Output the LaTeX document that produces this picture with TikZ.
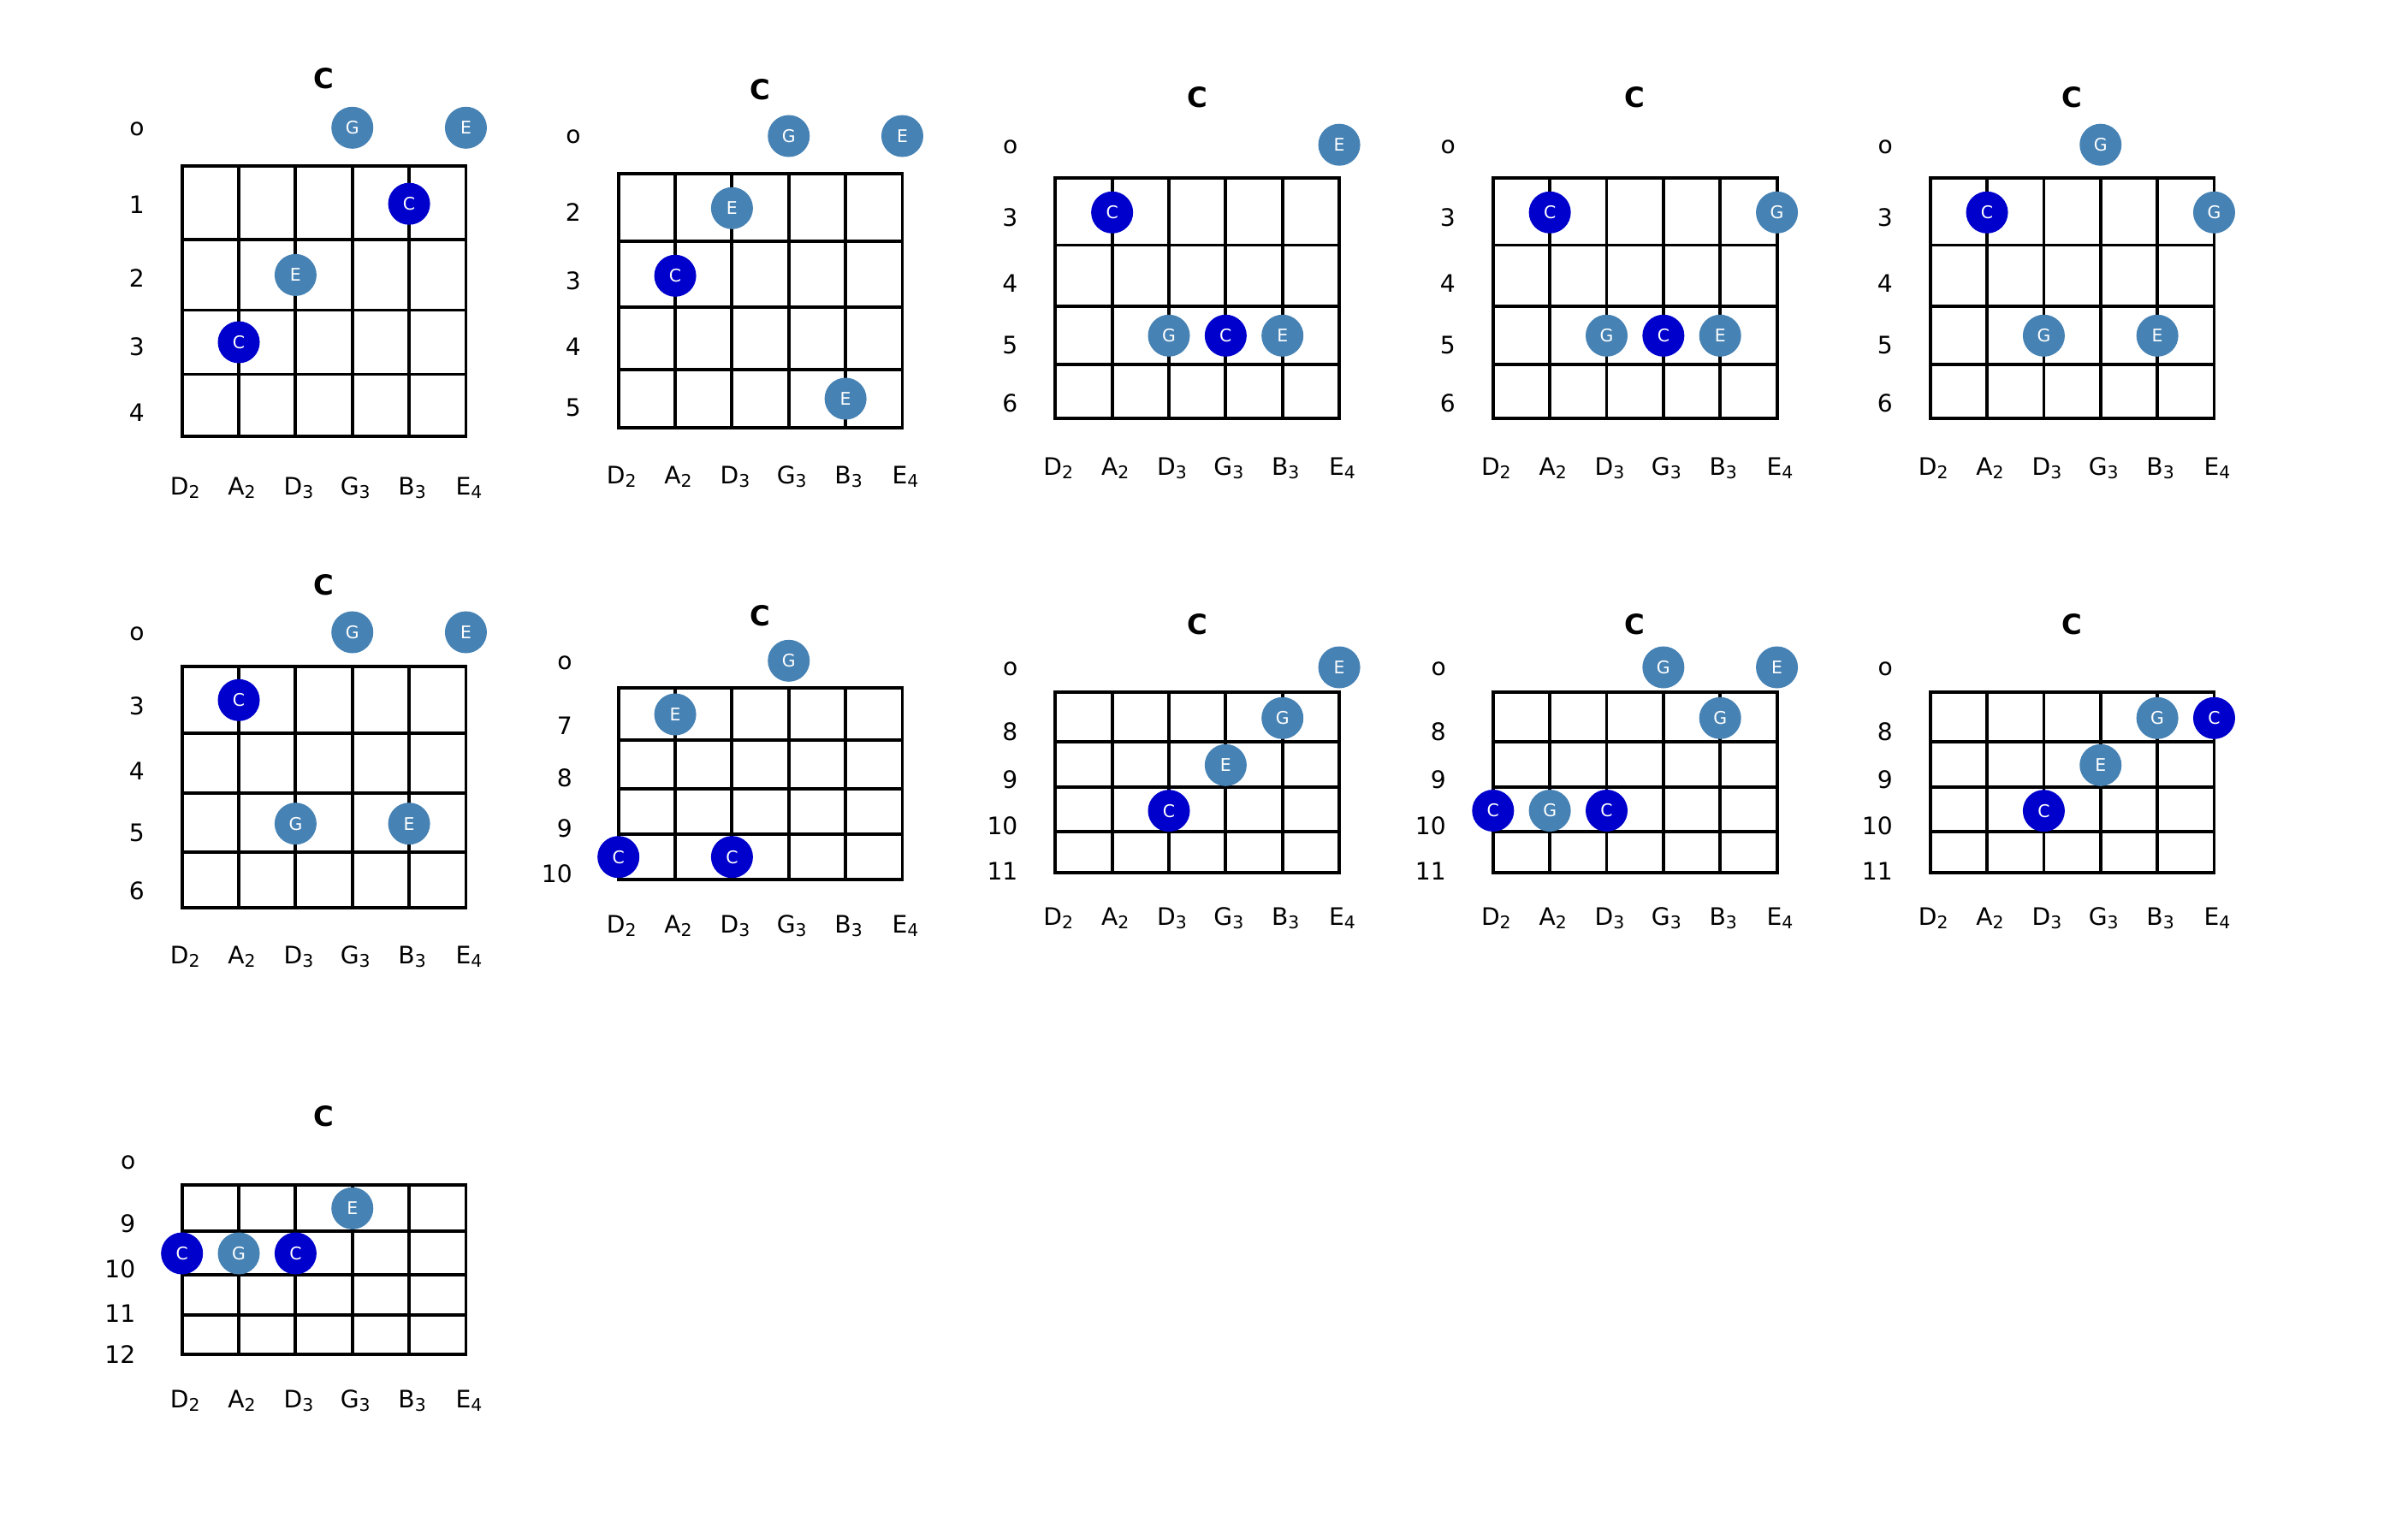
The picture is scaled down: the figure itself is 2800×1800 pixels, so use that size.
\documentclass[tikz,border=0pt]{standalone}
\usepackage{fontspec}
\setmainfont{DejaVu Sans}
\definecolor{rootblue}{HTML}{0000CD}
\definecolor{toneblue}{HTML}{4682B4}
\tikzset{
  fret/.style={draw=black,line width=1.1pt,line cap=rect},
  fretlab/.style={font=\fontsize{8}{9}\selectfont,anchor=east,inner sep=0pt},
  strlab/.style={font=\fontsize{8}{9}\selectfont,inner sep=0pt,xshift=0.035cm},
  chordname/.style={font=\fontsize{9.2}{10}\selectfont\bfseries,inner sep=0pt},
  dot/.style={circle,inner sep=0pt,minimum size=4.9mm,text=white,
              font=\fontsize{5.8}{6}\selectfont},
  root/.style={dot,fill=rootblue},
  tone/.style={dot,fill=toneblue}
}
\def\sgap{66.35}
\newcommand{\sub}[1]{\raisebox{-0.15em}{\fontsize{5.8}{6}\selectfont#1}}
% #1 left x, #2 top, #3 bottom, #4 inner fret lines
\newcommand{\fretboard}[4]{%
  \foreach \s in {0,...,5}
    \draw[fret] ({#1+\s*\sgap},#2) -- ({#1+\s*\sgap},#3);
  \foreach \fy in {#2,#4,#3}
    \draw[fret] (#1,\fy) -- ({#1+5*\sgap},\fy);
}
% #1 name, #2 left x, #3 y of string names, #4 y of chord name
\newcommand{\chordframe}[4]{%
  \node[chordname] (#1-t) at ({#2+2.5*\sgap},#4) {C};
  \foreach \n/\o [count=\s from 0] in {D/2,A/2,D/3,G/3,B/3,E/4}
    \node[strlab] (#1-s\s) at ({#2+\s*\sgap},#3) {\n\sub{\o}};
}
% #1 name, #2 right x, #3 list label/y
\newcommand{\fretnums}[3]{%
  \foreach \t/\y [count=\k] in {#3}
    \node[fretlab] (#1-f\k) at (#2,\y) {\t};
}
% #1 name, #2 left x, #3 style, #4 list string/y/note
\newcommand{\notes}[4]{%
  \foreach \s/\y/\n [count=\k] in {#4}
    \node[#3] (#1-#3\k) at ({#2+\s*\sgap},\y) {\n};
}
\begin{document}
\begin{tikzpicture}[x=0.01cm,y=-0.01cm]
  \useasboundingbox (0,0) rectangle (2800,1800);
  % row 1
  \fretboard{212.7}{193.9}{510}{280.4,362.5,437.5}
  \chordframe{a}{212.7}{570}{92}
  \fretnums{a}{169.4}{o/151,1/239.3,2/325,3/405.4,4/482.1}
  \notes{a}{212.7}{tone}{3/149.3/G,5/149.3/E,2/321.4/E}
  \notes{a}{212.7}{root}{4/238.2/C,1/400/C}

  \fretboard{722.7}{202.7}{500}{281.7,359,431.7}
  \chordframe{b}{722.7}{557}{105}
  \fretnums{b}{679.4}{o/160,2/247.7,3/328.3,4/405,5/476.7}
  \notes{b}{722.7}{tone}{3/159/G,5/159/E,2/243.3/E,4/466/E}
  \notes{b}{722.7}{root}{1/322.3/C}

  \fretboard{1233.3}{208.3}{489.3}{286.5,357.6,426.2}
  \chordframe{c}{1233.3}{547}{113.3}
  \fretnums{c}{1190}{o/171.7,3/254,4/331.7,5/403,6/471.7}
  \notes{c}{1233.3}{tone}{5/169.2/E,2/392.3/G,4/392.3/E}
  \notes{c}{1233.3}{root}{1/248.3/C,3/392.3/C}

  \fretboard{1744.8}{208.3}{489.3}{286.5,357.6,426.2}
  \chordframe{d}{1744.8}{547}{113.3}
  \fretnums{d}{1701.5}{o/171.7,3/254,4/331.7,5/403,6/471.7}
  \notes{d}{1744.8}{tone}{5/248.3/G,2/392.3/G,4/392.3/E}
  \notes{d}{1744.8}{root}{1/248.3/C,3/392.3/C}

  \fretboard{2255.7}{208.3}{489.3}{286.5,357.6,426.2}
  \chordframe{e}{2255.7}{547}{113.3}
  \fretnums{e}{2212.4}{o/171.7,3/254,4/331.7,5/403,6/471.7}
  \notes{e}{2255.7}{tone}{3/169.2/G,5/248.3/G,2/392.3/G,4/392.3/E}
  \notes{e}{2255.7}{root}{1/248.3/C}
  % row 2
  \fretboard{212.7}{779.3}{1060.7}{856.7,927.3,996}
  \chordframe{f}{212.7}{1118.5}{683.3}
  \fretnums{f}{169.4}{o/741,3/825.7,4/901.7,5/973.3,6/1041.7}
  \notes{f}{212.7}{tone}{3/739/G,5/739/E,2/962.7/G,4/962.7/E}
  \notes{f}{212.7}{root}{1/818.3/C}

  \fretboard{722.7}{804}{1027.7}{865,921.7,975}
  \chordframe{g}{722.7}{1082}{720}
  \fretnums{g}{669.4}{o/775,7/848.3,8/909.3,9/968.3,10/1021.7}
  \notes{g}{722.7}{tone}{3/772.3/G,1/835/E}
  \notes{g}{722.7}{root}{0/1001.7/C,2/1001.7/C}

  \fretboard{1233.3}{809.3}{1020}{867,920.3,971.7}
  \chordframe{h}{1233.3}{1073.5}{729.3}
  \fretnums{h}{1190}{o/781.7,8/855,9/911.7,10/965,11/1018.3}
  \notes{h}{1233.3}{tone}{5/780/E,4/839.3/G,3/894.3/E}
  \notes{h}{1233.3}{root}{2/947.7/C}

  \fretboard{1744.8}{809.3}{1020}{867,920.3,971.7}
  \chordframe{i}{1744.8}{1073.5}{729.3}
  \fretnums{i}{1690.4}{o/781.7,8/855,9/911.7,10/965,11/1018.3}
  \notes{i}{1744.8}{tone}{3/780/G,5/780/E,4/839.3/G,1/947.5/G}
  \notes{i}{1744.8}{root}{0/947.5/C,2/947.5/C}

  \fretboard{2255.7}{809.3}{1020}{867,920.3,971.7}
  \chordframe{j}{2255.7}{1073.5}{729.3}
  \fretnums{j}{2212.4}{o/781.7,8/855,9/911.7,10/965,11/1018.3}
  \notes{j}{2255.7}{tone}{4/839.3/G,3/894.3/E}
  \notes{j}{2255.7}{root}{5/839.3/C,2/947.7/C}
  % row 3
  \fretboard{212.7}{1385}{1583.3}{1439,1490,1537.3}
  \chordframe{k}{212.7}{1637}{1305}
  \fretnums{k}{159}{o/1359.3,9/1430,10/1483.3,11/1535,12/1583.3}
  \notes{k}{212.7}{tone}{3/1412.3/E,1/1465/G}
  \notes{k}{212.7}{root}{0/1465/C,2/1465/C}
\end{tikzpicture}
\end{document}
